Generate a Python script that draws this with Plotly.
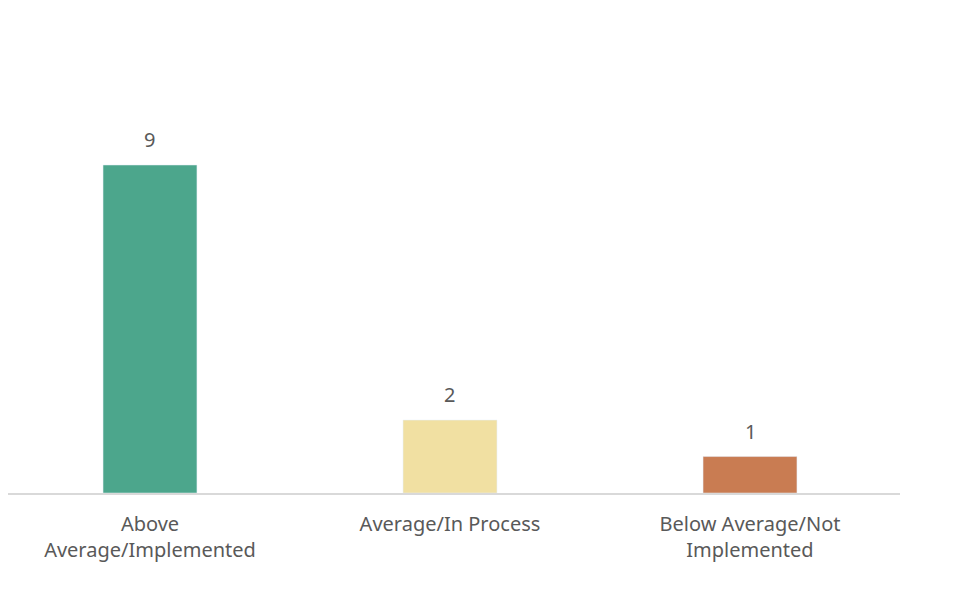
import plotly.graph_objects as go

categories = ["Above<br>Average/Implemented", "Average/In Process", "Below Average/Not<br>Implemented"]
counts = [9, 2, 1]
colors = ["#4ca68c", "#f1e0a2", "#c97c52"]

fig = go.Figure(go.Bar(
    x=categories, y=counts,
    marker_color=colors,
    width=0.313,
))

# value labels floating above the bars
for c, v in zip(categories, counts):
    fig.add_annotation(x=c, y=v, text=str(v), showarrow=False, yanchor="bottom", yshift=10,
                       font=dict(size=20, color="#595959"))

fig.update_layout(
    width=960, height=604,
    margin=dict(l=0, r=68, t=12, b=119),
    paper_bgcolor="white", plot_bgcolor="white",
    showlegend=False,
    font=dict(family="Noto Sans, Open Sans, sans-serif", size=20, color="#595959"),
)
fig.update_xaxes(showline=True, linecolor="#d9d9d9", linewidth=2, ticks="",
                 tickfont=dict(size=20), ticklabelstandoff=12, range=[-0.4733, 2.5])
fig.update_yaxes(visible=False, range=[0, 12.98])

fig.write_html("out.html")
